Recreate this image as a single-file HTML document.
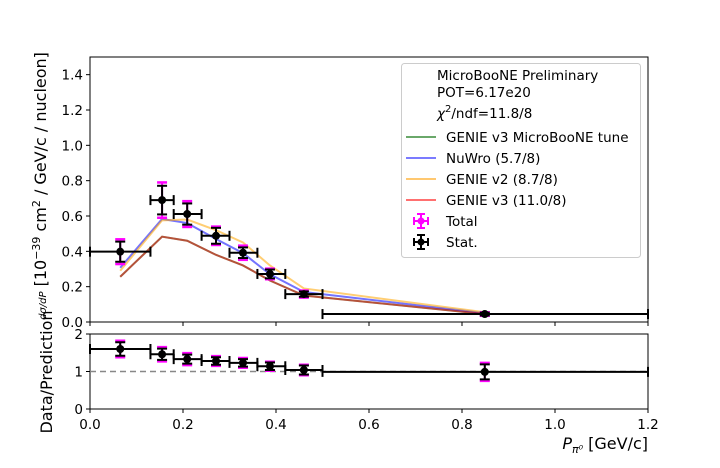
<!DOCTYPE html>
<html><head><meta charset="utf-8"><style>
html,body{margin:0;padding:0;background:#fff;}
svg{display:block;font-family:"DejaVu Sans","Liberation Sans",sans-serif;}
</style></head><body>
<svg id="c" width="720" height="468" viewBox="0 0 720 468" xmlns="http://www.w3.org/2000/svg">
<g id="main"></g>
<g id="ratio"></g>
<g id="legend"></g>
</svg>
<script>
const binEdges=[0,0.13,0.18,0.24,0.30,0.36,0.42,0.50,1.2];
const binCenters=[0.065,0.155,0.209,0.271,0.329,0.387,0.460,0.849];
const dataValues=[0.398,0.69,0.611,0.488,0.392,0.272,0.158,0.045];
const statErr=[0.057,0.081,0.06,0.045,0.03,0.025,0.015,0.008];
const totalErr=[0.07,0.1,0.073,0.052,0.04,0.03,0.02,0.01];
const genieTune=[0.256,0.483,0.46,0.38,0.32,0.235,0.15,0.045];
const nuwro=[0.307,0.583,0.56,0.47,0.39,0.27,0.17,0.05];
const genieV2=[0.29,0.575,0.58,0.52,0.45,0.32,0.19,0.055];
const genieV3=[0.256,0.483,0.46,0.38,0.32,0.235,0.15,0.045];
const ratioValues=[1.6,1.46,1.33,1.28,1.23,1.14,1.04,0.99];
const ratioStat=[0.18,0.15,0.12,0.1,0.1,0.1,0.12,0.2];
const ratioTotal=[0.22,0.19,0.16,0.13,0.13,0.12,0.14,0.24];
const xTicks=[0,0.2,0.4,0.6,0.8,1.0,1.2];
const yTicks=[0,0.2,0.4,0.6,0.8,1.0,1.2,1.4];
const rTicks=[0,1,2];

const NS="http://www.w3.org/2000/svg";
const X0=90,X1=648,MY0=322,MY1=57,RY0=409,RY1=334;
const xs=v=>X0+(v-0)/1.2*(X1-X0);
const ys=v=>MY0-v/1.5*(MY0-MY1);
const rs=v=>RY0-v/2*(RY0-RY1);
function mk(p,tag,a,txt){const e=document.createElementNS(NS,tag);for(const k in a)e.setAttribute(k,a[k]);if(txt!==undefined)e.textContent=txt;p.appendChild(e);return e;}
const M=document.getElementById('main'),R=document.getElementById('ratio'),L=document.getElementById('legend');

function frame(g,y0,y1,ticks,sc,fmt,name){
  const r=mk(g,'rect',{x:X0,y:y1,width:X1-X0,height:y0-y1,fill:'none',stroke:'#000','stroke-width':1});
  
  
  ticks.forEach(t=>{const y=sc(t);
    mk(g,'line',{x1:X0-4,x2:X0,y1:y,y2:y,stroke:'#000'});
    const tx=mk(g,'text',{x:X0-7,y:y+5,'text-anchor':'end','font-size':13.5},fmt(t));
    
    
  });
}
frame(M,MY0,MY1,yTicks,ys,t=>t.toFixed(1),'main');
frame(R,RY0,RY1,rTicks,rs,t=>String(t),'ratio');
xTicks.forEach(t=>{const x=xs(t);
  mk(M,'line',{x1:x,x2:x,y1:MY0,y2:MY0+4,stroke:'#000'});
  mk(R,'line',{x1:x,x2:x,y1:RY0,y2:RY0+4,stroke:'#000'});
  const tx=mk(R,'text',{x:x,y:RY0+20,'text-anchor':'middle','font-size':13.5},t.toFixed(1));
  
  
});

function model(vals,color,name){
  const pts=binCenters.map((c,i)=>xs(c)+','+ys(vals[i])).join(' ');
  const p=mk(M,'polyline',{points:pts,fill:'none',stroke:color,'stroke-width':2,'stroke-opacity':0.55});
  
  
}
model(genieTune,'#1a7a1a','genie-v3-tune-line');
model(nuwro,'#0000ff','nuwro-line');
model(genieV2,'#ffa500','genie-v2-line');
model(genieV3,'#e00000','genie-v3-line');

function errpts(g,vals,se,te,sc,name){
  binCenters.forEach((c,i)=>{
    const x=xs(c),y=sc(vals[i]);
    const grp=mk(g,'g',{});
    
    
    const yt1=sc(vals[i]+te[i]),yt2=sc(vals[i]-te[i]);
    mk(grp,'line',{x1:x,x2:x,y1:yt1,y2:yt2,stroke:'#ff00ff','stroke-width':2});
    [yt1,yt2].forEach(yy=>mk(grp,'line',{x1:x-5,x2:x+5,y1:yy,y2:yy,stroke:'#ff00ff','stroke-width':2.5}));
    const ys1=sc(vals[i]+se[i]),ys2=sc(vals[i]-se[i]);
    mk(grp,'line',{x1:x,x2:x,y1:ys1,y2:ys2,stroke:'#000','stroke-width':2});
    [ys1,ys2].forEach(yy=>mk(grp,'line',{x1:x-5,x2:x+5,y1:yy,y2:yy,stroke:'#000','stroke-width':2}));
    const xa=xs(binEdges[i]),xb=xs(binEdges[i+1]);
    mk(grp,'line',{x1:xa,x2:xb,y1:y,y2:y,stroke:'#000','stroke-width':2});
    [xa,xb].forEach(xx=>mk(grp,'line',{x1:xx,x2:xx,y1:y-5,y2:y+5,stroke:'#000','stroke-width':2}));
    mk(grp,'circle',{cx:x,cy:y,r:4,fill:'#000'});
  });
}
const dl=mk(R,'line',{x1:X0,x2:X1,y1:rs(1),y2:rs(1),stroke:'#888','stroke-width':1.5,'stroke-dasharray':'6,4'});


errpts(M,dataValues,statErr,totalErr,ys,'data-point');
errpts(R,ratioValues,ratioStat,ratioTotal,rs,'ratio-point');

let t=mk(R,'text',{x:648,y:449,'text-anchor':'end','font-size':16},'');
t.innerHTML='<tspan font-style="italic">P</tspan><tspan font-style="italic" font-size="11" dy="4">π⁰</tspan><tspan dy="-4"> [GeV/c]</tspan>';


t=mk(R,'text',{x:52,y:372,'text-anchor':'middle','font-size':16,transform:'rotate(-90 52 372)'},'Data/Prediction');


t=mk(M,'text',{x:46,y:186,'text-anchor':'middle','font-size':16,transform:'rotate(-90 46 186)'},'');
t.innerHTML='<tspan font-style="italic" font-size="10">dσ/dP</tspan><tspan> [10</tspan><tspan font-size="11" dy="-6">−39</tspan><tspan dy="6"> cm</tspan><tspan font-size="11" dy="-6">2</tspan><tspan dy="6"> / GeV/c / nucleon]</tspan>';



const lb=mk(L,'rect',{x:401.5,y:63.5,width:239,height:194,rx:3,fill:'#fff','fill-opacity':0.8,stroke:'#ccc'});


[['MicroBooNE Preliminary',80],['POT=6.17e20',97]].forEach(([s,y])=>{const e=mk(L,'text',{x:437,y:y,'font-size':13.5},s);});
t=mk(L,'text',{x:437,y:118,'font-size':13.5},'');
t.innerHTML='<tspan font-style="italic">χ</tspan><tspan font-size="10" dy="-6">2</tspan><tspan dy="6">/ndf=11.8/8</tspan>';


[['GENIE v3 MicroBooNE tune','#6aa86a',137],['NuWro (5.7/8)','#7b7bff',158],['GENIE v2 (8.7/8)','#ffc870',179],['GENIE v3 (11.0/8)','#ff7070',200]].forEach(([s,c,y])=>{
  const g=mk(L,'g',{});
  
  
  mk(g,'line',{x1:406,x2:436,y1:y,y2:y,stroke:c,'stroke-width':2});
  mk(g,'text',{x:446,y:y+5,'font-size':13.5},s);
});
[['Total','#ff00ff',221],['Stat.','#000',242]].forEach(([s,c,y])=>{
  const g=mk(L,'g',{});
  
  
  mk(g,'line',{x1:421,x2:421,y1:y-7,y2:y+7,stroke:c,'stroke-width':2});
  mk(g,'line',{x1:414,x2:428,y1:y,y2:y,stroke:c,'stroke-width':2});
  [y-7,y+7].forEach(yy=>mk(g,'line',{x1:417,x2:425,y1:yy,y2:yy,stroke:c,'stroke-width':2}));
  [414,428].forEach(xx=>mk(g,'line',{x1:xx,x2:xx,y1:y-4,y2:y+4,stroke:c,'stroke-width':2}));
  mk(g,'circle',{cx:421,cy:y,r:3.5,fill:c});
  mk(g,'text',{x:446,y:y+5,'font-size':13.5},s);
});
</script>
</body></html>
